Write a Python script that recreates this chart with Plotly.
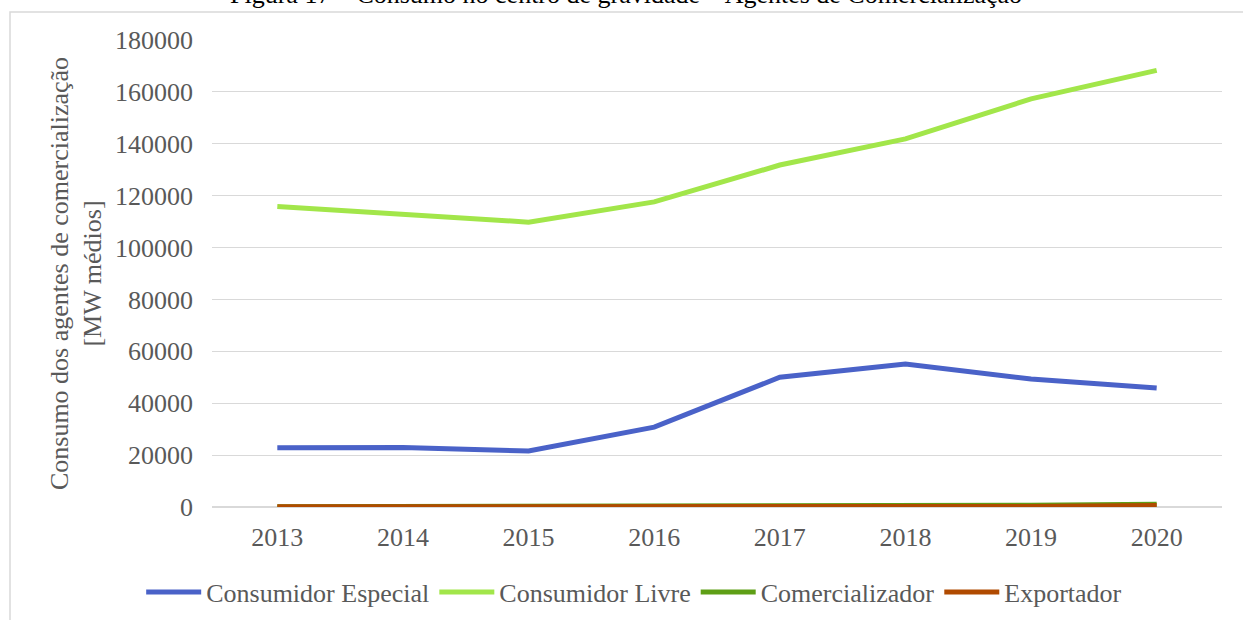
import plotly.graph_objects as go

years = ["2013", "2014", "2015", "2016", "2017", "2018", "2019", "2020"]
consumidor_especial = [22800, 22900, 21600, 30800, 50000, 55100, 49300, 45900]
consumidor_livre = [115800, 112600, 109800, 117600, 131800, 141900, 157300, 168300]
comercializador = [100, 150, 200, 300, 400, 400, 700, 1100]
exportador = [100, 100, 100, 500, 200, 200, 200, 600]

series = [
    ("Consumidor Especial", consumidor_especial, "#4A62C8"),
    ("Consumidor Livre", consumidor_livre, "#A2E64A"),
    ("Comercializador", comercializador, "#5E9F16"),
    ("Exportador", exportador, "#B04A00"),
]

font_family = "Liberation Serif, Times New Roman, serif"
fs = 26

fig = go.Figure()
for name, vals, color in series:
    fig.add_trace(go.Scatter(x=years, y=vals, name=name, mode="lines",
                             line=dict(color=color, width=5)))

fig.update_layout(
    width=1243, height=620,
    margin=dict(l=212, r=21, t=40, b=113, autoexpand=False),
    paper_bgcolor="white", plot_bgcolor="white",
    font=dict(family=font_family, size=fs, color="#595959"),
    showlegend=True,
    legend=dict(orientation="h", x=0.418, xanchor="center", y=-0.182, yanchor="middle",
                font=dict(size=fs, color="#595959"), itemwidth=55, tracegroupgap=0),
    xaxis=dict(showgrid=False, showline=False, ticks="", tickfont=dict(size=fs, color="#595959"),
               range=[-0.52, 7.52], ticklabelstandoff=12),
    yaxis=dict(range=[0, 180000], dtick=20000, showgrid=True, gridcolor="#D9D9D9", gridwidth=1,
               zeroline=True, zerolinecolor="#D9D9D9", tickfont=dict(size=fs, color="#595959"),
               tickformat="d", ticklabelstandoff=18,
               title=dict(text="Consumo dos agentes de comercialização<br>[MW médios]",
                          font=dict(size=fs, color="#595959"), standoff=5)),
    shapes=[dict(type="rect", xref="paper", yref="paper", x0=-0.2, x1=1.1, y0=-0.5, y1=1.06,
                 line=dict(color="#D9D9D9", width=1.5), fillcolor="rgba(0,0,0,0)", layer="below")],
    annotations=[dict(text="Figura 17 – Consumo no centro de gravidade – Agentes de Comercialização",
                      xref="paper", yref="paper", x=0.41, y=1.062, xanchor="center", yanchor="bottom",
                      showarrow=False, font=dict(size=fs, color="#000000", family=font_family))],
)

fig.write_html("out.html")
